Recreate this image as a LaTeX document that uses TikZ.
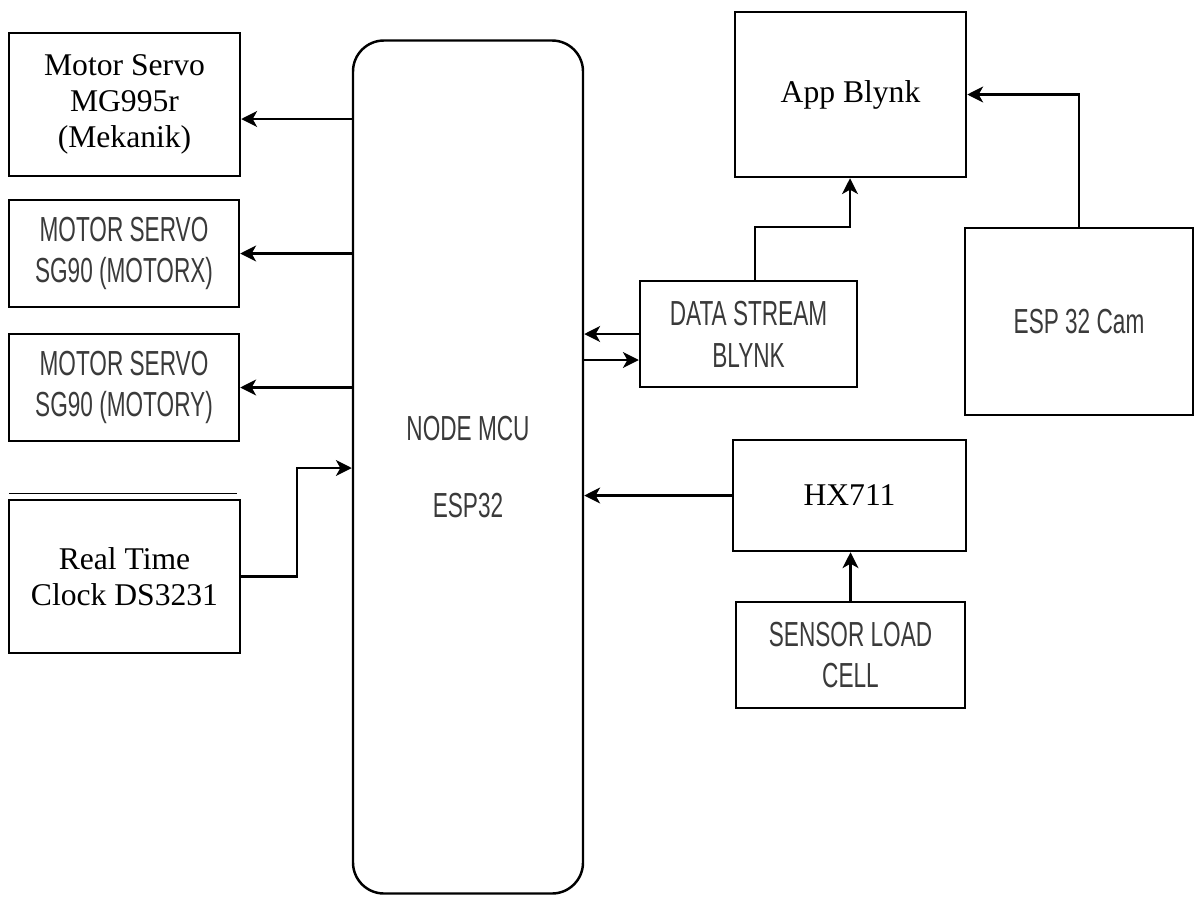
\documentclass[tikz,border=0pt]{standalone}
\usepackage{fontspec}
\setmainfont{Liberation Serif}
\newfontfamily\narrowsans[FakeStretch=0.65]{Liberation Sans}
\usetikzlibrary{arrows.meta,calc}
\definecolor{sgray}{RGB}{58,58,58}
\newcommand\serfont{\fontsize{18}{20.4}\selectfont}
\newcommand\sanfont{\narrowsans\fontsize{19.8}{23.8}\selectfont}
\tikzset{
  box/.style={draw, line width=1.4pt, inner sep=0pt},
  ser/.style={font=\serfont, align=center, text=black},
  san/.style={font=\sanfont, align=center, text=sgray},
  arr/.style={draw, line width=1.4pt, -{Stealth[length=9pt,width=9pt,inset=2.5pt]}},
  wh/.style 2 args={minimum width=#1*0.02cm, minimum height=#2*0.02cm},
}
\begin{document}
\begin{tikzpicture}[x=0.02cm,y=-0.02cm]
\useasboundingbox (0,0) rectangle (1195,896);
% left column
\node[box, ser, wh={231}{143}] (m1) at (124.5,104.5) {Motor Servo\\MG995r\\(Mekanik)};
\node[box, san, wh={230}{107}] (m2) at (124,253.5) {MOTOR SERVO\\SG90 (MOTORX)};
\node[box, san, wh={230}{107}] (m3) at (124,387.5) {MOTOR SERVO\\SG90 (MOTORY)};
\node[box, ser, wh={231}{153}] (rtc) at (124.5,576.5) {Real Time\\Clock DS3231};
\draw[line width=0.7pt] (rtc.north west) ++(1,-5) -- ++(228,0);
% centre
\node[box, san, rounded corners=0.62cm, wh={230}{853}] (mcu) at (468,467) {NODE MCU\\[20.4pt]ESP32};
% right side
\node[box, ser, wh={231}{165}] (app) at (850.5,94.5) {App Blynk};
\node[box, san, wh={217}{106}] (ds) at (748.5,334) {DATA STREAM\\BLYNK};
\node[box, san, wh={228}{187}] (cam) at (1079,321.5) {ESP 32 Cam};
\node[box, ser, wh={233}{111}] (hx) at (849.5,495.5) {HX711};
\node[box, san, wh={229}{106}] (lc) at (850.5,655) {SENSOR LOAD\\CELL};
% connectors
\draw[arr] (mcu.west |- 0,119) -- (m1.east |- 0,119);
\draw[arr] (mcu.west |- m2.east) -- (m2.east);
\draw[arr] (mcu.west |- m3.east) -- (m3.east);
\draw[arr] (rtc.east) -- (297,0 |- rtc.east) |- (mcu.west |- 0,468);
\draw[arr] (ds.west) -- (mcu.east |- ds.west);
\draw[arr] (mcu.east |- 0,360) -- (ds.west |- 0,360);
\draw[arr] (ds.north -| 755,0) |- (850,227) -- (app.south -| 850,0);
\draw[arr] (cam.north) |- (app.east);
\draw[arr] (hx.west) -- (mcu.east |- hx.west);
\draw[arr] (lc.north) -- (hx.south -| lc.north);
\end{tikzpicture}
\end{document}
